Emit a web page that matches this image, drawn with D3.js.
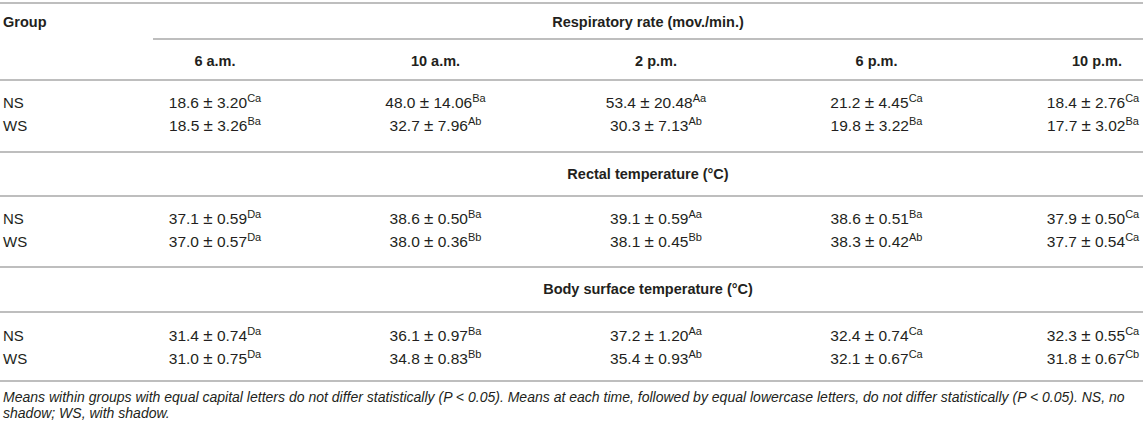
<!DOCTYPE html>
<html><head><meta charset="utf-8">
<script src="https://cdn.jsdelivr.net/npm/d3@7"></script>
<style>
html,body{margin:0;padding:0;background:#fff;}
svg{display:block;font-family:"Liberation Sans",Arial,Helvetica,sans-serif;}
</style></head>
<body>
<svg id="t" width="1143" height="428"></svg>
<script>
const times = ["6 a.m.", "10 a.m.", "2 p.m.", "6 p.m.", "10 p.m."];
const groups = ["NS", "WS"];
const sections = ["Respiratory rate (mov./min.)", "Rectal temperature (°C)", "Body surface temperature (°C)"];

const respNSMean = [18.6, 48.0, 53.4, 21.2, 18.4];
const respNSSD = ["3.20", "14.06", "20.48", "4.45", "2.76"];
const respNSLet = ["Ca", "Ba", "Aa", "Ca", "Ca"];
const respWSMean = [18.5, 32.7, 30.3, 19.8, 17.7];
const respWSSD = ["3.26", "7.96", "7.13", "3.22", "3.02"];
const respWSLet = ["Ba", "Ab", "Ab", "Ba", "Ba"];

const rectNSMean = [37.1, 38.6, 39.1, 38.6, 37.9];
const rectNSSD = ["0.59", "0.50", "0.59", "0.51", "0.50"];
const rectNSLet = ["Da", "Ba", "Aa", "Ba", "Ca"];
const rectWSMean = [37.0, 38.0, 38.1, 38.3, 37.7];
const rectWSSD = ["0.57", "0.36", "0.45", "0.42", "0.54"];
const rectWSLet = ["Da", "Bb", "Bb", "Ab", "Ca"];

const bodyNSMean = [31.4, 36.1, 37.2, 32.4, 32.3];
const bodyNSSD = ["0.74", "0.97", "1.20", "0.74", "0.55"];
const bodyNSLet = ["Da", "Ba", "Aa", "Ca", "Ca"];
const bodyWSMean = [31.0, 34.8, 35.4, 32.1, 31.8];
const bodyWSSD = ["0.75", "0.83", "0.93", "0.67", "0.67"];
const bodyWSLet = ["Da", "Bb", "Ab", "Ca", "Cb"];

const footnote1 = "Means within groups with equal capital letters do not differ statistically (P < 0.05). Means at each time, followed by equal lowercase letters, do not differ statistically (P < 0.05). NS, no";
const footnote2 = "shadow; WS, with shadow.";

// table built from the arrays
const table = [
  [[respNSMean, respNSSD, respNSLet], [respWSMean, respWSSD, respWSLet]],
  [[rectNSMean, rectNSSD, rectNSLet], [rectWSMean, rectWSSD, rectWSLet]],
  [[bodyNSMean, bodyNSSD, bodyNSLet], [bodyWSMean, bodyWSSD, bodyWSLet]]
];

const svg = d3.select("#t");
const W = 1143;
const x = d3.scalePoint().domain(times).range([215, 1097]);
const lineColor = "#a9a9a9";
const textColor = "#231f20";

function hline(y, x0, x1) {
  svg.append("line").attr("x1", x0).attr("x2", x1).attr("y1", y).attr("y2", y)
    .attr("stroke", lineColor).attr("stroke-width", 1.6);
}

const titleY = [22, 174, 289];
const rowY = [[102, 125], [218, 241], [335, 358]];
const sectionTopLine = [null, 196, 312];
const sectionBottomLine = [152, 267, 381];

hline(3, 0, W);
svg.append("text").attr("x", 3).attr("y", 22 + 5).attr("font-size", 14.5)
  .attr("font-weight", "bold").attr("fill", textColor).text("Group");
hline(39, 153, W);
svg.selectAll("text.time").data(times).enter().append("text")
  .attr("class", "time").attr("x", d => x(d)).attr("y", 61 + 5)
  .attr("text-anchor", "middle").attr("font-size", 14.5).attr("font-weight", "bold")
  .attr("fill", textColor).text(d => d);
hline(80, 0, W);

sections.forEach((s, si) => {
  svg.append("text").attr("x", (153 + W) / 2).attr("y", titleY[si] + 5)
    .attr("text-anchor", "middle").attr("font-size", 14.5).attr("font-weight", "bold")
    .attr("fill", textColor).text(s);
  if (sectionTopLine[si] !== null) hline(sectionTopLine[si], 0, W);
  groups.forEach((g, gi) => {
    const y = rowY[si][gi] + 5.5;
    svg.append("text").attr("x", 3).attr("y", y).attr("font-size", 15)
      .attr("fill", textColor).text(g);
    const [mean, sd, lett] = table[si][gi];
    const cells = svg.selectAll(null).data(times).enter().append("text")
      .attr("x", (d, i) => x(d) - (i === times.length - 1 ? 4 : 0)).attr("y", y).attr("text-anchor", "middle")
      .attr("font-size", 15.5).attr("fill", textColor);
    cells.append("tspan").text((d, i) => mean[i].toFixed(1) + " ");
    cells.append("tspan").attr("font-size", 17).text("\u00b1");
    cells.append("tspan").text((d, i) => " " + sd[i]);
    cells.append("tspan").attr("font-size", 11).attr("dy", -6).text((d, i) => lett[i]);
  });
  hline(sectionBottomLine[si], 0, W);
});

const f1 = svg.append("text").attr("x", 3).attr("y", 397 + 5).attr("font-size", 13.5)
  .attr("font-style", "italic").attr("fill", textColor).text(footnote1);
const len = f1.node().getComputedTextLength();
const fs = 13.5 * 1122 / len;
f1.attr("font-size", fs);
svg.append("text").attr("x", 3).attr("y", 413 + 5).attr("font-size", fs)
  .attr("font-style", "italic").attr("fill", textColor).text(footnote2);
</script>
</body></html>
